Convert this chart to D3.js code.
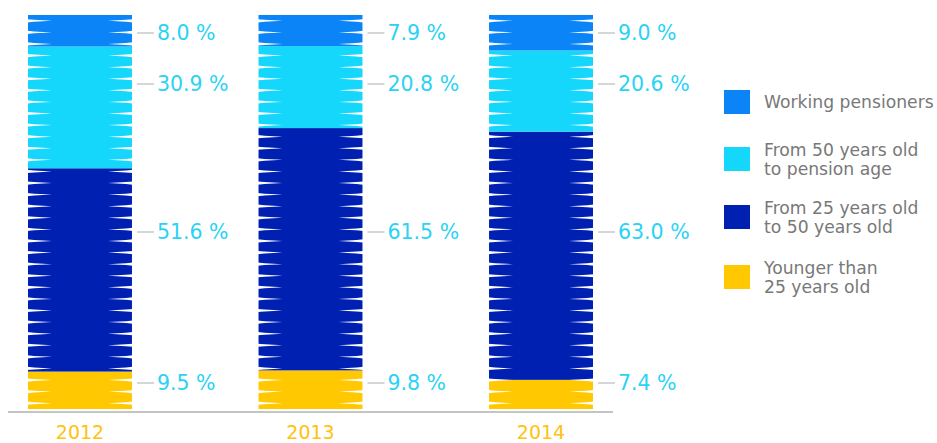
<!DOCTYPE html>
<html>
<head>
<meta charset="utf-8">
<script src="https://cdn.jsdelivr.net/npm/d3@7"></script>
<style>
  html, body { margin: 0; padding: 0; background: #fff; }
  svg { display: block; }
</style>
</head>
<body>
<svg id="chart" width="937" height="443"></svg>
<script>
// ---- data ----
const years = ["2012", "2013", "2014"];
const seriesKeys = ["working", "from50", "from25", "younger"];
const seriesNames = [
  ["Working pensioners"],
  ["From 50 years old", "to pension age"],
  ["From 25 years old", "to 50 years old"],
  ["Younger than", "25 years old"]
];
const working = [8.0, 7.9, 9.0];
const from50  = [30.9, 20.8, 20.6];
const from25  = [51.6, 61.5, 63.0];
const younger = [9.5, 9.8, 7.4];
const colors = ["#0a84f6", "#14d7fb", "#0020b2", "#ffc800"];

// ---- layout ----
const svg = d3.select("#chart");
const barTop = 15, barBottom = 409;
const labelRows = [33, 84, 232, 383]; // fixed label rows (working, from50, from25, younger)

const rows = years.map((y, i) => ({
  year: y, working: working[i], from50: from50[i], from25: from25[i], younger: younger[i]
}));

const stackOrder = ["younger", "from25", "from50", "working"];
const stacked = d3.stack().keys(stackOrder)(rows);

const x = d3.scaleBand().domain(years).range([28, 593]).paddingInner(0.549).paddingOuter(0);
const yS = d3.scaleLinear().domain([0, 100]).range([barBottom, barTop]);
const color = d3.scaleOrdinal().domain(seriesKeys).range(colors);

// bars
const g = svg.append("g");
stacked.forEach(layer => {
  g.selectAll(null).data(layer).enter().append("rect")
    .attr("x", d => x(d.data.year))
    .attr("width", x.bandwidth())
    .attr("y", d => yS(d[1]))
    .attr("height", d => yS(d[0]) - yS(d[1]))
    .attr("fill", color(layer.key));
});

// notches (thin white wedges on the sides)
const defs = svg.append("defs");
defs.append("filter").attr("id", "soft").append("feGaussianBlur").attr("stdDeviation", 0.6);
const nNotch = 34;
const period = (barBottom - barTop) / nNotch;
const depth = 24, half = 1.6;
const notchG = svg.append("g").attr("filter", "url(#soft)");
years.forEach(yr => {
  const x0 = x(yr), x1 = x(yr) + x.bandwidth();
  for (let k = 0; k < nNotch; k++) {
    const cy = barTop + period * (k + 0.5);
    notchG.append("path")
      .attr("d", `M${x0 - 1},${cy - half}L${x0 + 6},${cy - half * 0.6}L${x0 + depth},${cy}L${x0 + 6},${cy + half * 0.6}L${x0 - 1},${cy + half}Z`)
      .attr("fill", "#fff");
    notchG.append("path")
      .attr("d", `M${x1 + 1},${cy - half}L${x1 - 6},${cy - half * 0.6}L${x1 - depth},${cy}L${x1 - 6},${cy + half * 0.6}L${x1 + 1},${cy + half}Z`)
      .attr("fill", "#fff");
  }
});

// value labels with leader lines
const valueArrays = { working, from50, from25, younger };
years.forEach((yr, i) => {
  const xr = x(yr) + x.bandwidth();
  seriesKeys.forEach((k, j) => {
    const ly = labelRows[j];
    svg.append("line")
      .attr("x1", xr + 5).attr("x2", xr + 22)
      .attr("y1", ly).attr("y2", ly)
      .attr("stroke", "#c9c9c9").attr("stroke-width", 1.5);
    svg.append("text")
      .attr("x", xr + 25).attr("y", ly).attr("dy", "0.36em")
      .attr("font-family", "'DejaVu Sans', Verdana, sans-serif")
      .attr("font-size", 20.5)
      .attr("fill", "#2ad2f6")
      .text(d3.format(".1f")(valueArrays[k][i]) + " %");
  });
});

// baseline
svg.append("line")
  .attr("x1", 8).attr("x2", 613).attr("y1", 412).attr("y2", 412)
  .attr("stroke", "#b0b0b0").attr("stroke-width", 1.5);

// x axis labels
const xAxis = d3.axisBottom(x).tickSize(0).tickPadding(0);
const ax = svg.append("g").attr("transform", "translate(0,425)").call(xAxis);
ax.select(".domain").remove();
ax.selectAll("text")
  .attr("font-family", "'DejaVu Sans', Verdana, sans-serif")
  .attr("font-size", 19)
  .attr("fill", "#ffc20e")
  .attr("dy", "0.71em");

// legend
const legendY = [102, 159, 217, 277];
const lg = svg.append("g");
seriesKeys.forEach((k, j) => {
  const cy = legendY[j];
  lg.append("rect").attr("x", 724).attr("y", cy - 12).attr("width", 26).attr("height", 24)
    .attr("fill", color(k));
  const lines = seriesNames[j];
  const lh = 19;
  const t = lg.append("text")
    .attr("font-family", "'DejaVu Sans', Verdana, sans-serif")
    .attr("font-size", 17.2)
    .attr("fill", "#787878");
  lines.forEach((ln, li) => {
    t.append("tspan").attr("x", 764)
      .attr("y", cy - (lines.length - 1) * lh / 2 + li * lh)
      .attr("dy", "0.36em")
      .text(ln);
  });
});
</script>
</body>
</html>
